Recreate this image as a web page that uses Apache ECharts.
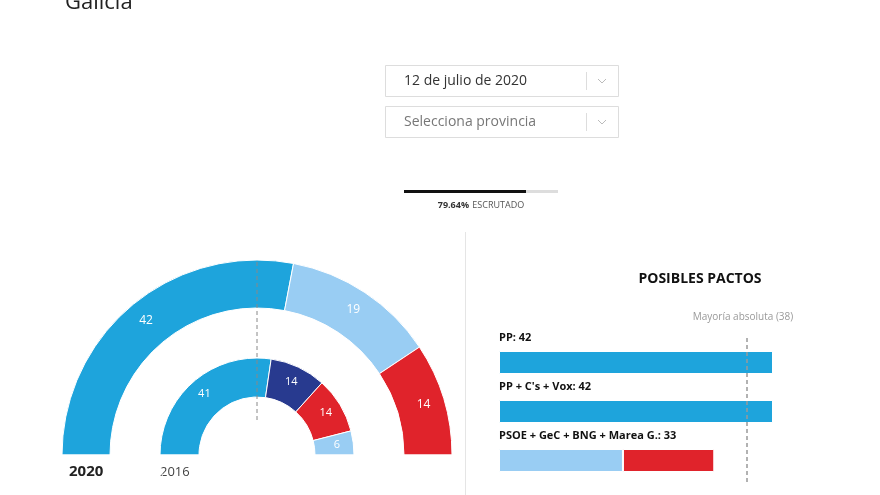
<!DOCTYPE html>
<html><head><meta charset="utf-8">
<script src="https://cdn.jsdelivr.net/npm/echarts@6/dist/echarts.min.js"></script>
<style>html,body{margin:0;padding:0;background:#fff}#c{width:880px;height:495px}</style>
</head><body><div id="c"></div>
<script>
const parties2020 = ['PP','BNG','PSOE'];
const seats2020 = [42,19,14];
const colors2020 = ['#1ea4dc','#99cdf3','#e0232b'];
const parties2016 = ['PP','En Marea','PSOE','BNG'];
const seats2016 = [41,14,14,6];
const colors2016 = ['#1ea4dc','#283a8f','#e0232b','#99cdf3'];
const pactLabels = ['PP: 42','PP + C\'s + Vox: 42','PSOE + GeC + BNG + Marea G.: 33'];
const pactA = [42,42,19];
const pactB = [0,0,14];
const majority = 38;
const font = '"Open Sans", sans-serif';

function half(names, vals, cols, inner, outer, fs) {
  const d = names.map((n,i)=>({name:n,value:vals[i],itemStyle:{color:cols[i]}}));
  d.push({name:'',value:vals.reduce((a,b)=>a+b,0),itemStyle:{color:'transparent'},label:{show:false}});
  return {type:'pie',center:[257,455],radius:[inner,outer],startAngle:180,clockwise:true,silent:true,
    itemStyle:{borderColor:'#fff',borderWidth:1},
    label:{show:true,position:'inside',formatter:p=>p.name?p.value:'',color:'#fff',fontSize:fs,fontFamily:font},
    labelLine:{show:false},data:d};
}
const T = (o)=>Object.assign({fontFamily:font},o);
const chart = echarts.init(document.getElementById('c'));
chart.setOption({
  animation:false,
  textStyle:{fontFamily:font},
  grid:{left:499,top:338,width:326.2,height:147},
  xAxis:{type:'value',min:0,max:50,show:false},
  yAxis:{type:'category',data:pactLabels,inverse:true,show:false},
  series:[
    half(parties2020,seats2020,colors2020,147,195,12),
    half(parties2016,seats2016,colors2016,58,97,11),
    {type:'bar',stack:'p',data:pactA.map((v,i)=>({value:v,itemStyle:{color:i<2?'#1ea4dc':'#99cdf3'}})),barWidth:23,
      itemStyle:{borderColor:'#fff',borderWidth:1},
      label:{show:true,position:'insideTopLeft',offset:[-5,-24],formatter:p=>pactLabels[p.dataIndex],color:'#111',fontWeight:'bold',fontSize:11,fontFamily:font},
      markLine:{silent:true,symbol:'none',lineStyle:{color:'#999',type:[4,3],width:1.5},label:{show:false},data:[{xAxis:majority}]}},
    {type:'bar',stack:'p',data:pactB,barWidth:23,itemStyle:{color:'#e0232b',borderColor:'#fff',borderWidth:1}}
  ],
  graphic:[
    {type:'text',left:65,top:-8,style:T({text:'Galicia',fontSize:22,fill:'#222'})},
    {type:'rect',shape:{x:385.5,y:65.5,width:233,height:31},style:{fill:'#fff',stroke:'#ddd'}},
    {type:'text',x:404,y:81,style:T({text:'12 de julio de 2020',fontSize:14,fill:'#333',verticalAlign:'middle'})},
    {type:'line',shape:{x1:586.5,y1:72,x2:586.5,y2:90},style:{stroke:'#ddd'}},
    {type:'polyline',shape:{points:[[598,79],[602,83],[606,79]]},style:{stroke:'#bbb',fill:'none'}},
    {type:'rect',shape:{x:385.5,y:106.5,width:233,height:31},style:{fill:'#fff',stroke:'#ddd'}},
    {type:'text',x:404,y:122,style:T({text:'Selecciona provincia',fontSize:14,fill:'#777',verticalAlign:'middle'})},
    {type:'line',shape:{x1:586.5,y1:113,x2:586.5,y2:131},style:{stroke:'#ddd'}},
    {type:'polyline',shape:{points:[[598,120],[602,124],[606,120]]},style:{stroke:'#bbb',fill:'none'}},
    {type:'rect',shape:{x:404,y:190,width:154,height:3},style:{fill:'#ddd'}},
    {type:'rect',shape:{x:404,y:190,width:122,height:3},style:{fill:'#111'}},
    {type:'text',x:481,y:205,style:{rich:{b:{fontWeight:'bold',fontSize:9,fill:'#333',fontFamily:font},n:{fontSize:9,fill:'#555',fontFamily:font}},text:'{b|79.64%} {n|ESCRUTADO}',align:'center',verticalAlign:'middle'}},
    {type:'line',shape:{x1:465.5,y1:232,x2:465.5,y2:495},style:{stroke:'#e5e5e5'}},
    {type:'text',x:700,y:279,style:T({text:'POSIBLES PACTOS',fontSize:14,fontWeight:'bold',fill:'#111',align:'center',verticalAlign:'middle'})},
    {type:'text',x:743,y:317,style:T({text:'Mayoría absoluta (38)',fontSize:10,fill:'#999',align:'center',verticalAlign:'middle'})},
    {type:'line',shape:{x1:257,y1:262,x2:257,y2:420},style:{stroke:'#888',lineDash:[4,3],lineWidth:1},z:10},
    {type:'text',x:69,y:472,style:T({text:'2020',fontSize:15,fontWeight:'bold',fill:'#222',verticalAlign:'middle'})},
    {type:'text',x:160,y:472,style:T({text:'2016',fontSize:13,fill:'#444',verticalAlign:'middle'})}
  ]
});
</script></body></html>
